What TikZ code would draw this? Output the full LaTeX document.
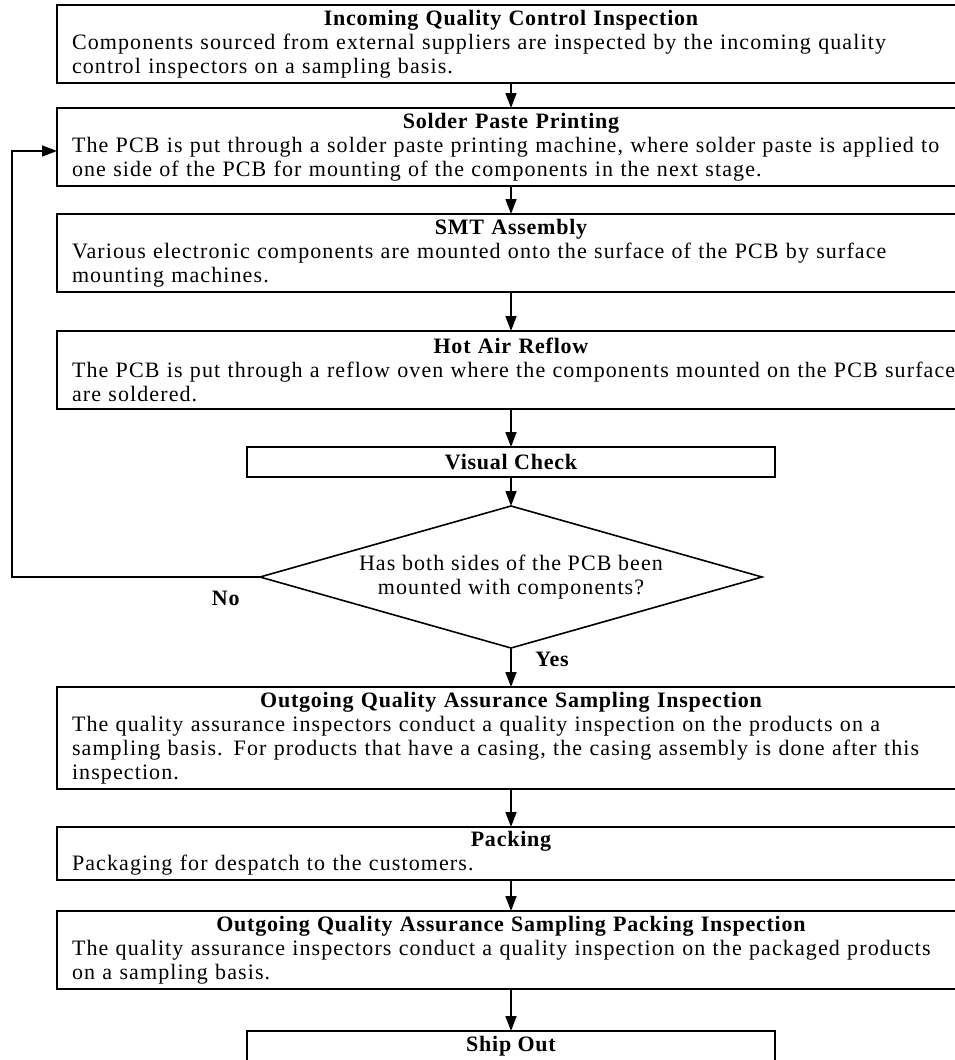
\documentclass[tikz,border=0pt]{standalone}
\usepackage{fontspec}
\setmainfont[LetterSpace=5, BoldFeatures={LetterSpace=3.5}]{Liberation Serif}
\usetikzlibrary{arrows.meta, positioning, shapes.geometric}
\newcommand{\steptitle}[1]{\centerline{\bfseries #1}}

\begin{document}
\begin{tikzpicture}[
    box/.style={draw, line width=0.8pt, text width=439pt, inner xsep=7.5pt,
                inner ysep=1pt, outer sep=0pt, minimum height=39pt, align=left,
                font=\fontsize{11pt}{12pt}\selectfont},
    smallbox/.style={draw, line width=0.8pt, minimum width=264pt, minimum height=15pt,
                inner sep=0pt, outer sep=0pt, font=\fontsize{11pt}{12pt}\selectfont\bfseries},
    decision/.style={draw, diamond, aspect=3.5, line width=0.8pt, minimum width=251pt,
                minimum height=71pt, inner sep=0pt, outer sep=0pt, align=center,
                font=\fontsize{11pt}{12pt}\selectfont},
    arr/.style={-{Triangle[length=7.5pt, width=5.5pt]}, line width=0.8pt},
    lbl/.style={font=\fontsize{11pt}{12pt}\selectfont\bfseries, inner sep=1pt}
  ]
  \useasboundingbox (0,0) rectangle (477pt,-530pt);

  \node[box, anchor=north] (iqc) at (255.5pt,-2.5pt) {\steptitle{Incoming Quality Control Inspection}
    Components sourced from external suppliers are inspected by the incoming quality\\
    control inspectors on a sampling basis.};
  \node[box, below=12.5pt of iqc] (paste) {\steptitle{Solder Paste Printing}
    \mbox{The PCB is put through a solder paste printing machine, where solder paste is applied to}\\
    one side of the PCB for mounting of the components in the next stage.};
  \node[box, below=14pt of paste] (smt) {\steptitle{SMT Assembly}
    Various electronic components are mounted onto the surface of the PCB by surface\\
    mounting machines.};
  \node[box, below=19.5pt of smt] (reflow) {\steptitle{Hot Air Reflow}
    \mbox{The PCB is put through a reflow oven where the components mounted on the PCB surface}\\
    are soldered.};
  \node[smallbox, below=19pt of reflow] (visual) {Visual Check};
  \node[decision, below=14.5pt of visual] (dia) {Has both sides of the PCB been\\mounted with components?};
  \node[box, below=19.5pt of dia, minimum height=51pt] (oqa) {\steptitle{Outgoing Quality Assurance Sampling Inspection}
    The quality assurance inspectors conduct a quality inspection on the products on a\\
    \mbox{sampling basis. For products that have a casing, the casing assembly is done after this}\\
    inspection.};
  \node[box, below=19pt of oqa, minimum height=26.5pt] (pack) {\steptitle{Packing}
    Packaging for despatch to the customers.};
  \node[box, below=15.5pt of pack] (oqapack) {\steptitle{Outgoing Quality Assurance Sampling Packing Inspection}
    \mbox{The quality assurance inspectors conduct a quality inspection on the packaged products}\\
    on a sampling basis.};
  \node[smallbox, below=21pt of oqapack] (ship) {Ship Out};

  \draw[arr] (iqc) -- (paste);
  \draw[arr] (paste) -- (smt);
  \draw[arr] (smt) -- (reflow);
  \draw[arr] (reflow) -- (visual);
  \draw[arr] (visual) -- (dia);
  \draw[arr] (dia) -- (oqa);
  \draw[arr] (oqa) -- (pack);
  \draw[arr] (pack) -- (oqapack);
  \draw[arr] (oqapack) -- (ship);

  % back to printing for the other side
  \coordinate (loop) at (6pt,0);
  \draw[arr] (dia.west) -- (dia.west -| loop) |- ([yshift=-2pt]paste.west);
  \node[lbl, below left=6pt and 9pt of dia.west] (no) {No};
  \node[lbl, below right=1pt and 11pt of dia.south] (yes) {Yes};
\end{tikzpicture}
\end{document}
